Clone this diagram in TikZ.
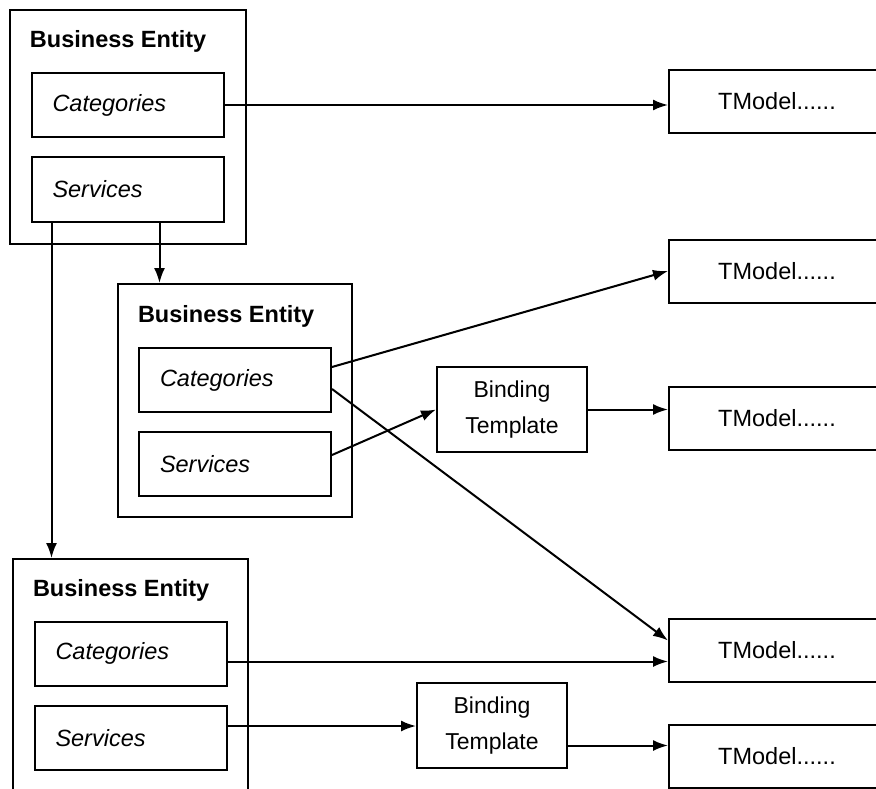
\documentclass[tikz,border=0pt]{standalone}
\usepackage{fontspec}
\setmainfont{Liberation Sans}
\usetikzlibrary{arrows.meta}

\begin{document}
\fontsize{23.5}{28}\selectfont
\begin{tikzpicture}[x=1pt, y=-1pt, line width=2pt,
    >={Latex[length=15pt, width=11pt]},
    entity/.style={draw=black, minimum width=236pt, minimum height=234pt, inner sep=0pt},
    title/.style={inner sep=0pt, anchor=base west, font=\bfseries},
    part/.style={draw=black, text width=150pt, inner xsep=21pt, minimum height=64pt,
                 align=left, font=\itshape},
    binding/.style={draw=black, minimum width=150pt, minimum height=85pt,
                    align=center, font=\fontsize{23}{36}\selectfont},
    tmodel/.style={draw=black, minimum width=216pt, minimum height=63pt}]
    \useasboundingbox (0, 0) rectangle (876, 789);
    \clip (0, 0) rectangle (876, 789);

    % first entity
    \draw (128, 127) node [entity] (ent1) {};
    \draw (29, 48) node [title] (ttl1) {Business Entity};
    \draw (127.5, 105) node [part] (cat1) {Categories};
    \draw (127.5, 189.5) node [part] (srv1) {Services};

    % second entity
    \draw (235, 400.5) node [entity, minimum width=234pt, minimum height=233pt] (ent2) {};
    \draw (137, 322) node [title] (ttl2) {Business Entity};
    \draw (235, 380) node [part] (cat2) {Categories};
    \draw (235, 464) node [part] (srv2) {Services};

    % third entity
    \draw (130.5, 684) node [entity, minimum width=235pt, minimum height=250pt] (ent3) {};
    \draw (32, 596) node [title] (ttl3) {Business Entity};
    \draw (130.5, 653.5) node [part] (cat3) {Categories};
    \draw (130.5, 738) node [part] (srv3) {Services};

    \draw (512, 409.5) node [binding] (bt1) {Binding\\Template};
    \draw (492, 725.5) node [binding] (bt2) {Binding\\Template};

    \draw (777, 101.5) node [tmodel] (tm1) {TModel......};
    \draw (777, 271) node [tmodel] (tm2) {TModel......};
    \draw (777, 418.5) node [tmodel] (tm3) {TModel......};
    \draw (777, 650.5) node [tmodel] (tm4) {TModel......};
    \draw (777, 756.5) node [tmodel] (tm5) {TModel......};

    \draw [->] (cat1.east) -- (cat1.east -| tm1.west);
    \draw [->] ([xshift=21pt]srv1.south west) -- ([xshift=21pt]srv1.south west |- ent3.north);
    \draw [->] ([xshift=32pt]srv1.south) -- ([xshift=32pt]srv1.south |- ent2.north);
    \draw [->] ([yshift=13pt]cat2.east) -- (tm2.west);
    \draw [->] ([yshift=-9pt]cat2.east) -- ([yshift=10pt]tm4.west);
    \draw [->] ([yshift=9pt]srv2.east) -- (bt1.west);
    \draw [->] (bt1.east) -- (bt1.east -| tm3.west);
    \draw [->] ([yshift=-8pt]cat3.east) -- ([yshift=-8pt]cat3.east -| tm4.west);
    \draw [->] ([yshift=12pt]srv3.east) -- ([yshift=12pt]srv3.east -| bt2.west);
    \draw [->] ([yshift=-20pt]bt2.east) -- ([yshift=-20pt]bt2.east -| tm5.west);
\end{tikzpicture}
\end{document}
